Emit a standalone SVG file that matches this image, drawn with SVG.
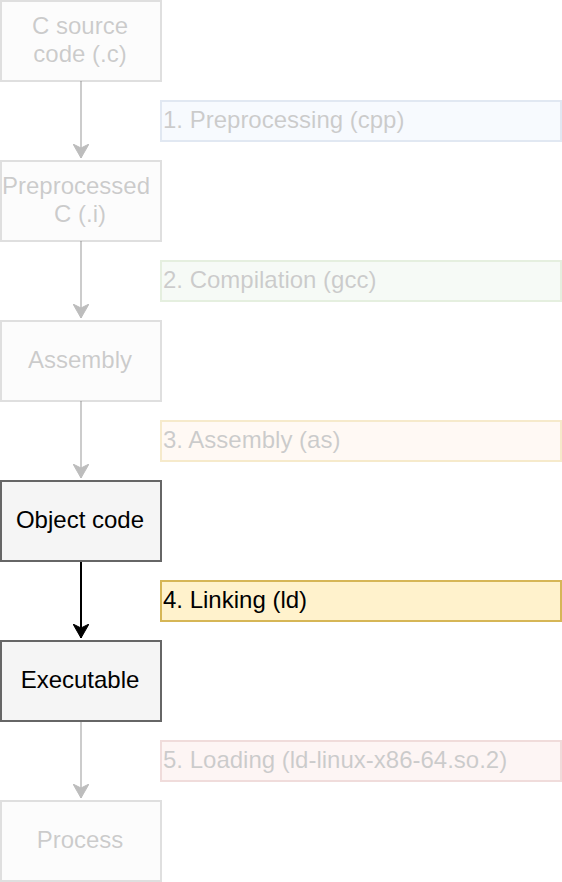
<svg xmlns="http://www.w3.org/2000/svg" width="562" height="882" viewBox="0 0 562 882">
<defs>
<style>
text{font-family:"Liberation Sans",Arial,Helvetica,sans-serif;font-size:24px;fill:#000}
.node rect{fill:#f5f5f5;stroke:#666666;stroke-width:2}
.node text{text-anchor:middle}
.lbl rect{stroke-width:2}
.lbl text{text-anchor:start}
.faded{opacity:0.2}
.edge{stroke-width:2;fill:none}
</style>
<marker id="ah" markerUnits="userSpaceOnUse" viewBox="0 0 16 16" markerWidth="16" markerHeight="16" refX="14" refY="8" orient="auto">
<path d="M14,8 L0,0 L4,8 L0,16 Z" fill="#000" stroke="#000" stroke-width="1"/>
</marker>
<marker id="ahf" markerUnits="userSpaceOnUse" viewBox="0 0 16 16" markerWidth="16" markerHeight="16" refX="14" refY="8" orient="auto">
<path d="M14,8 L0,0 L4,8 L0,16 Z" fill="#bdbdbd" stroke="#bdbdbd" stroke-width="1"/>
</marker>
</defs>
<rect width="562" height="882" fill="#ffffff"/>
<g id="connectors">
<path class="edge" d="M81,81 L81,158" stroke="#cccccc" marker-end="url(#ahf)"/>
<path class="edge" d="M81,241 L81,318" stroke="#cccccc" marker-end="url(#ahf)"/>
<path class="edge" d="M81,401 L81,478" stroke="#cccccc" marker-end="url(#ahf)"/>
<path class="edge" d="M81,561 L81,638" stroke="#000000" marker-end="url(#ah)"/>
<path class="edge" d="M81,721 L81,798" stroke="#cccccc" marker-end="url(#ahf)"/>
</g>
<g id="n-source" class="node faded">
<rect x="1" y="1" width="160" height="80"/>
<text x="80" y="33.6">C source</text>
<text x="80" y="62.4">code (.c)</text>
</g>
<g id="n-preprocessed" class="node faded">
<rect x="1" y="161" width="160" height="80"/>
<text x="76" y="193.6">Preprocessed</text>
<text x="80" y="222.4">C (.i)</text>
</g>
<g id="n-assembly" class="node faded">
<rect x="1" y="321" width="160" height="80"/>
<text x="80" y="368">Assembly</text>
</g>
<g id="n-object" class="node">
<rect x="1" y="481" width="160" height="80"/>
<text x="80" y="528">Object code</text>
</g>
<g id="n-executable" class="node">
<rect x="1" y="641" width="160" height="80"/>
<text x="80" y="688">Executable</text>
</g>
<g id="n-process" class="node faded">
<rect x="1" y="801" width="160" height="80"/>
<text x="80" y="848">Process</text>
</g>
<g id="l-preprocessing" class="lbl faded">
<rect x="161" y="101" width="400" height="40" fill="#dae8fc" stroke="#6c8ebf"/>
<text x="163" y="128">1. Preprocessing (cpp)</text>
</g>
<g id="l-compilation" class="lbl faded">
<rect x="161" y="261" width="400" height="40" fill="#d5e8d4" stroke="#82b366"/>
<text x="163" y="288">2. Compilation (gcc)</text>
</g>
<g id="l-assembly" class="lbl faded">
<rect x="161" y="421" width="400" height="40" fill="#ffe6cc" stroke="#d79b00"/>
<text x="163" y="448">3. Assembly (as)</text>
</g>
<g id="l-linking" class="lbl">
<rect x="161" y="581" width="400" height="40" fill="#fff2cc" stroke="#d6b656"/>
<text x="163" y="608">4. Linking (ld)</text>
</g>
<g id="l-loading" class="lbl faded">
<rect x="161" y="741" width="400" height="40" fill="#f8cecc" stroke="#b85450"/>
<text x="163" y="768">5. Loading (ld-linux-x86-64.so.2)</text>
</g>
</svg>
